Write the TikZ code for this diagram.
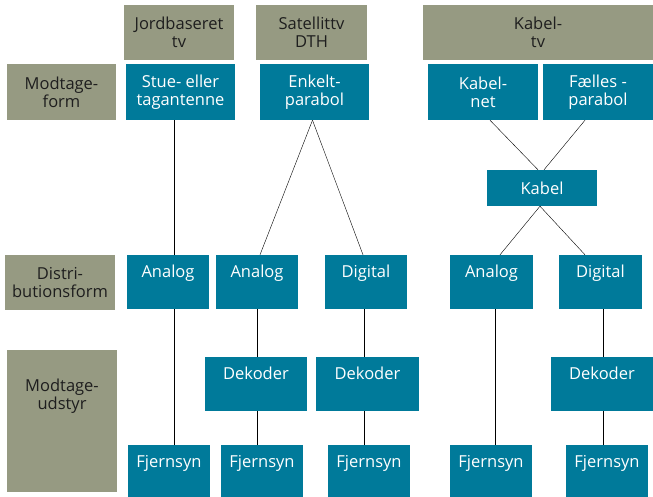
\documentclass[tikz,border=0pt]{standalone}
\usepackage{fontspec}
\setmainfont{Open Sans}
\usetikzlibrary{backgrounds}
\definecolor{tvgray}{RGB}{150,154,130}
\definecolor{tvblue}{RGB}{0,122,154}
\definecolor{tvtext}{RGB}{30,30,30}
\tikzset{
  tvbox/.style={minimum width=#1, inner sep=1pt, align=center,
    font=\fontsize{16.5}{18}\selectfont},
  hdr/.style={tvbox=#1, fill=tvgray, text=tvtext, minimum height=55pt},
  blk/.style={tvbox=#1, fill=tvblue, text=white, minimum height=56pt},
  toplbl/.style={anchor=north, inner sep=10pt, align=center, text=white,
    font=\fontsize{16.5}{18}\selectfont},
  conn/.style={line width=1pt, black!90}
}
\begin{document}
\begin{tikzpicture}[x=1pt,y=-1pt]
  \useasboundingbox (0,0) rectangle (653,496);
  % overskrifter
  \node[hdr=110pt] (jord) at (179,32.5) {Jordbaseret\\tv};
  \node[hdr=111pt] (sat) at (311.5,32.5) {Satellittv\\DTH};
  \node[hdr=230pt] (kabtv) at (538,32.5) {Kabel-\\tv};
  % raekketitler
  \node[hdr=109pt, minimum height=56pt] (modform) at (61.5,92) {Modtage-\\form};
  \node[hdr=110pt] (distform) at (60,282.5) {Distri-\\butionsform};
  \node[hdr=110pt, minimum height=142pt,
    label={[toplbl, text=tvtext, yshift=-19pt]north:Modtage-\\udstyr}] (udstyr) at (62,421) {};
  % modtageform
  \node[blk=109pt] (stue) at (180.5,92) {Stue- eller\\tagantenne};
  \node[blk=109pt] (enkelt) at (314.5,92) {Enkelt-\\parabol};
  \node[blk=110pt] (kabnet) at (483,92) {Kabel-\\net};
  \node[blk=110pt] (faelles) at (598,92) {Fælles -\\parabol};
  \node[blk=110pt, minimum height=36pt] (kabel) at (542,188) {Kabel};
  % distributionsform
  \node[blk=82pt, minimum height=54pt, label={[toplbl]north:Analog}] (an1) at (168,282) {};
  \node[blk=82pt, minimum height=54pt, label={[toplbl]north:Analog}] (an2) at (257,282) {};
  \node[blk=82pt, minimum height=54pt, label={[toplbl]north:Digital}] (dig1) at (366,282) {};
  \node[blk=83pt, minimum height=54pt, label={[toplbl]north:Analog}] (an3) at (491.5,282) {};
  \node[blk=83pt, minimum height=54pt, label={[toplbl]north:Digital}] (dig2) at (600.5,282) {};
  % modtageudstyr
  \node[blk=102pt, minimum height=54pt, label={[toplbl]north:Dekoder}] (dek1) at (256,384) {};
  \node[blk=103pt, minimum height=54pt, label={[toplbl]north:Dekoder}] (dek2) at (367.5,384) {};
  \node[blk=102pt, minimum height=54pt, label={[toplbl]north:Dekoder}] (dek3) at (602,384) {};
  \node[blk=82pt, minimum height=54pt, label={[toplbl]north:Fjernsyn}] (fj1) at (169,472) {};
  \node[blk=82pt, minimum height=54pt, label={[toplbl]north:Fjernsyn}] (fj2) at (262,472) {};
  \node[blk=82pt, minimum height=54pt, label={[toplbl]north:Fjernsyn}] (fj3) at (369,472) {};
  \node[blk=82pt, minimum height=54pt, label={[toplbl]north:Fjernsyn}] (fj4) at (491,472) {};
  \node[blk=82pt, minimum height=54pt, label={[toplbl]north:Fjernsyn}] (fj5) at (607,472) {};
  % forbindelser
  \begin{scope}[on background layer, conn]
    \draw ([xshift=-6pt]stue.south) -- ([xshift=-6pt]stue.south |- fj1.north);
    \draw ([xshift=-2pt]enkelt.south) -- ([xshift=3pt]an2.north);
    \draw ([xshift=-2pt]enkelt.south) -- ([xshift=-3pt]dig1.north);
    \draw (an2.south) -- (an2.south |- fj2.north);
    \draw ([xshift=-2pt]dig1.south) -- ([xshift=-2pt]dig1.south |- fj3.north);
    \draw ([xshift=7pt]kabnet.south) -- ([xshift=-4pt]kabel.north);
    \draw ([xshift=-13pt]faelles.south) -- ([xshift=2pt]kabel.north);
    \draw ([xshift=-2pt]kabel.south) -- ([xshift=8.5pt]an3.north);
    \draw ([xshift=-2pt]kabel.south) -- ([xshift=-15.5pt]dig2.north);
    \draw ([xshift=3.5pt]an3.south) -- ([xshift=3.5pt]an3.south |- fj4.north);
    \draw ([xshift=2.5pt]dig2.south) -- ([xshift=2.5pt]dig2.south |- fj5.north);
  \end{scope}
\end{tikzpicture}
\end{document}
